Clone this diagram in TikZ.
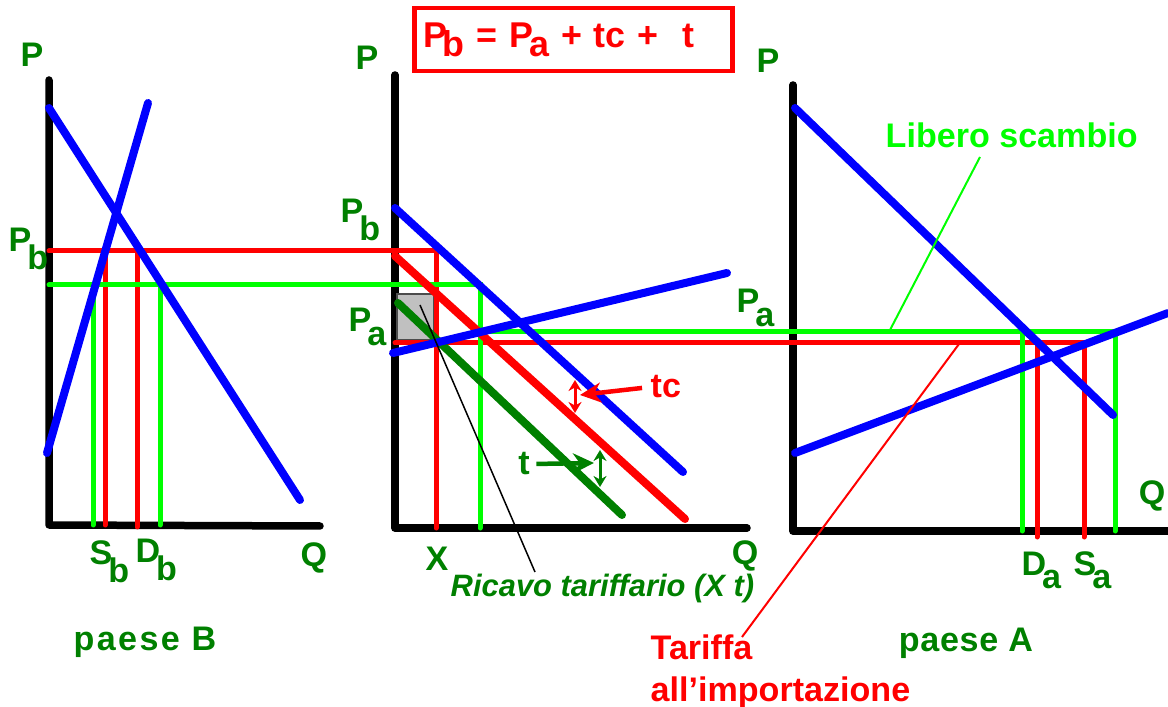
\documentclass[tikz,border=0pt]{standalone}
\usepackage{fontspec}
\setmainfont{Liberation Sans}
\usepackage{tikz}
\usetikzlibrary{arrows.meta}
\definecolor{linegreen}{HTML}{00FF00}
\definecolor{textgreen}{HTML}{008000}
\definecolor{revgray}{HTML}{C0C0C0}
\newcommand{\lowsub}[3][0.5em]{#2\kern-0.12em\raisebox{-#1}{#3}}

\begin{document}
\begin{tikzpicture}[x=0.1mm,y=-0.1mm,
  axisline/.style={line width=0.75mm,line cap=round,line join=round},
  blueline/.style={draw=blue,line width=0.8mm,line cap=round},
  lowered/.style={line width=0.8mm,line cap=round},
  tar/.style={draw=red,line width=0.5mm,line cap=round},
  free/.style={draw=linegreen,line width=0.5mm,line cap=round},
  leader/.style={line width=0.2mm},
  lbl/.style={inner sep=0pt,text=textgreen,font=\fontsize{9.7}{11.9}\selectfont\bfseries},
  dbl/.style={line width=0.3mm,{Stealth[length=1.1mm,width=1.3mm]}-{Stealth[length=1.1mm,width=1.3mm]}},
  arr/.style={line width=0.45mm,-{Stealth[length=2.1mm,width=2mm]}}
]
\useasboundingbox (0,0) rectangle (1168,707);

% Formula
\node[draw=red,line width=0.45mm,anchor=west,text=red,font=\fontsize{10.2}{12}\selectfont\bfseries,
  inner xsep=0.9mm,inner ysep=0pt,text width=30mm,minimum height=6.3mm,align=left] (formula) at (412,39.5)
  {\lowsub[0.25em]{P}{b} = \lowsub[0.25em]{P}{a} + tc +\ \ t};

% Axes
\draw[axisline] (49,80) -- (49,525) -- (320,526);
\draw[axisline] (395,75) -- (395,528) -- (747,528);
\draw[axisline] (793,85) -- (793,531) -- (1168,531);

% Tariff revenue
\filldraw[fill=revgray,draw=black!70,line width=0.15mm] (397,294) rectangle (434,340);

% Prices with tariff
\draw[tar] (49,251) -- (436,251) -- (436,528);
\draw[tar] (105,251) -- (105,525);
\draw[tar] (137,251) -- (137,527);
\draw[tar] (395,343) -- (1088,343);
\draw[tar] (1037,343) -- (1037,537);
\draw[tar] (1084,343) -- (1084,537);

% Free trade
\draw[free] (49,285) -- (480,285) -- (480,528);
\draw[free] (93,285) -- (93,525);
\draw[free] (160,285) -- (160,525);
\draw[free] (480,332) -- (1115,332) -- (1115,531);
\draw[free] (1022,332) -- (1022,531);

% Shifted import demand
\draw[lowered,red] (395,256) -- (685,519);
\draw[lowered,textgreen] (398,303) -- (622,515);

% Demand and supply
\draw[blueline] (49,108) -- (300,500);
\draw[blueline] (148,103) -- (47,453);
\draw[blueline] (395,208) -- (683,472);
\draw[blueline] (393,353) -- (727,273);
\draw[blueline] (795,108) -- (1113,415);
\draw[blueline] (795,453) -- (1168,313);

% Labels paese B
\node[lbl,anchor=base west] (pB) at (20,67) {P};
\node[lbl,anchor=base west] (pbB) at (8,252) {\lowsub{P}{b}};
\node[lbl,anchor=base west] (sb) at (89,565) {\lowsub{S}{b}};
\node[lbl,anchor=base west] (db) at (135,563) {\lowsub{D}{b}};
\node[lbl,anchor=base] (qB) at (314,566) {Q};
\node[lbl,anchor=base] (paeseB) at (145,650) {\addfontfeature{LetterSpace=7}paese\ B};

% Labels middle
\node[lbl,anchor=base west] (pM) at (355,70) {P};
\node[lbl,anchor=base west] (pbM) at (340,223) {\lowsub{P}{b}};
\node[lbl,anchor=base west] (paM) at (348,332) {\lowsub[0.4em]{P}{a}};
\node[lbl,anchor=base west] (paR) at (736,313) {\lowsub[0.4em]{P}{a}};
\node[lbl,anchor=base] (xq) at (437,570) {X};
\node[lbl,anchor=base] (qM) at (745,565) {Q};
\node[lbl,anchor=base west,font=\fontsize{8.8}{10.5}\selectfont\bfseries\itshape] (ricavo) at (450,597) {Ricavo tariffario (X t)};
\node[lbl,anchor=base west,text=red] (tc) at (650,398) {tc};
\node[lbl,anchor=base] (t) at (524,475) {t};

% Labels paese A
\node[lbl,anchor=base west] (pA) at (756,73) {P};
\node[lbl,anchor=base] (qA) at (1152,505) {Q};
\node[lbl,anchor=base west] (da) at (1021,575) {\lowsub[0.4em]{D}{a}};
\node[lbl,anchor=base west] (sa) at (1073,575) {\lowsub[0.4em]{S}{a}};
\node[lbl,anchor=base] (paeseA) at (966,651) {\addfontfeature{LetterSpace=2}paese A};
\node[lbl,anchor=base west,text=linegreen] (libero) at (885,148) {Libero scambio};
\node[lbl,anchor=north west,text=red,align=left] (tariffa) at (650,634) {Tariffa\\all'importazione};

% Arrows
\coordinate (tctip) at (580,395);
\coordinate (tctop) at (575,380);
\coordinate (tcbot) at (575,413);
\coordinate (ttip) at (594,463);
\coordinate (ttop) at (600,450);
\coordinate (tbot) at (600,487);
\draw[arr,red,shorten <=0.8mm] (tc.west) -- (tctip);
\draw[dbl,red] (tctop) -- (tcbot);
\draw[arr,textgreen,shorten <=0.6mm] (t.east) -- (ttip);
\draw[dbl,textgreen] (ttop) -- (tbot);

% Leaders
\coordinate (libfoot) at (980,157);
\coordinate (libtip) at (890,330);
\coordinate (tartip) at (959,344);
\coordinate (tarfoot) at (742,637);
\coordinate (revpt) at (420,305);
\coordinate (revfoot) at (535,572);
\draw[leader,linegreen] (libfoot) -- (libtip);
\draw[leader,red] (tartip) -- (tarfoot);
\draw[leader,black,line width=0.15mm] (revpt) -- (revfoot);

\end{tikzpicture}
\end{document}
